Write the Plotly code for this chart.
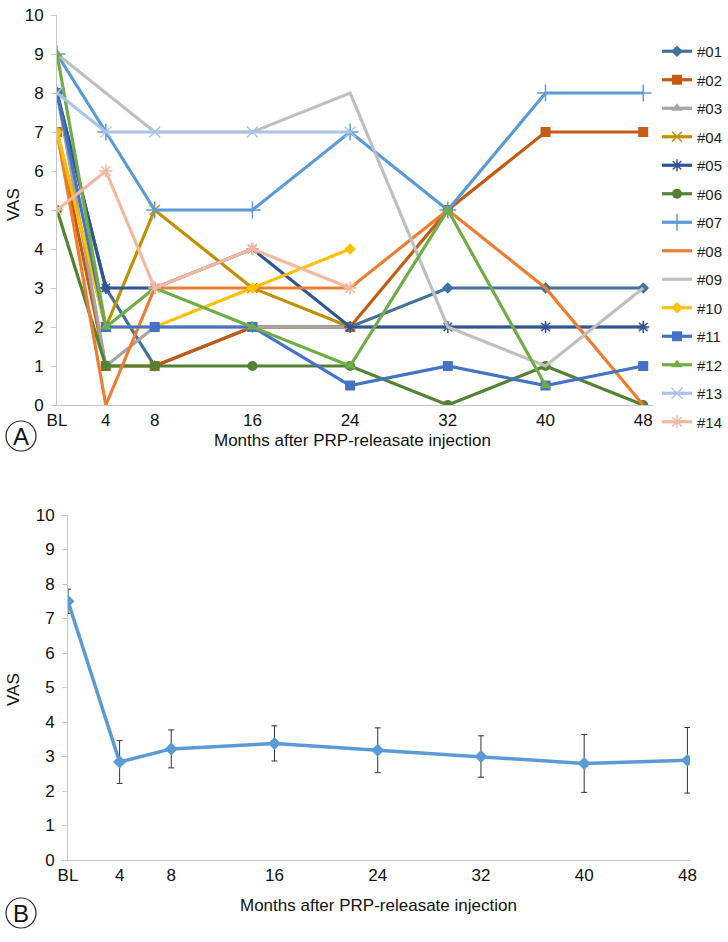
import plotly.graph_objects as go

months = [0, 4, 8, 16, 24, 32, 40, 48]
tick_labels = ["BL", "4", "8", "16", "24", "32", "40", "48"]

names = ["#01", "#02", "#03", "#04", "#05", "#06", "#07",
         "#08", "#09", "#10", "#11", "#12", "#13", "#14"]

p01 = [8, 3, 1, 2, 2, 3, 3, 3]
p02 = [7, 1, 1, 2, 2, 5, 7, 7]
p03 = [8, 1, 2, 2, 2, 2, 2, 2]
p04 = [7, 2, 5, 3, 2, None, None, None]
p05 = [8, 3, 3, 4, 2, 2, 2, 2]
p06 = [5, 1, 1, 1, 1, 0, 1, 0]
p07 = [9, 7, 5, 5, 7, 5, 8, 8]
p08 = [7, 0, 3, 3, 3, 5, 3, 0]
p09 = [9, 8, 7, 7, 8, 2, 1, 3]
p10 = [7, 2, 2, 3, 4, None, None, None]
p11 = [8, 2, 2, 2, 0.5, 1, 0.5, 1]
p12 = [9, 2, 3, 2, 1, 5, 0.5, None]
p13 = [8, 7, 7, 7, 7, None, None, None]
p14 = [5, 6, 3, 4, 3, None, None, None]
patients = [p01, p02, p03, p04, p05, p06, p07, p08, p09, p10, p11, p12, p13, p14]

mean_vas = [7.5, 2.84, 3.22, 3.38, 3.18, 3.0, 2.8, 2.89]
sd_vas = [0.35, 0.62, 0.55, 0.51, 0.65, 0.6, 0.84, 0.95]

colors = ["#41719C", "#C55A11", "#A5A5A5", "#BF9000", "#2F5597", "#548235", "#5B9BD5",
          "#ED7D31", "#BFBFBF", "#FFC000", "#4472C4", "#70AD47", "#A9C4E8", "#F4B8A0"]
symbols = ["diamond", "square", "triangle-up", "x-thin-open", "asterisk-open", "circle",
           "cross-thin-open", None, None, "diamond", "square", "triangle-up",
           "x-thin-open", "asterisk-open"]
sizes = [9, 10, 10, 10, 10, 10, 12, 0, 0, 9, 10, 10, 11, 11]

W, H = 728, 942
def px_x(p):
    return p / W
def px_y(p):
    return 1 - p / H

fig = go.Figure()

for i, (nm, vals) in enumerate(zip(names, patients)):
    sym = symbols[i]
    if sym is None:
        mode = "lines"
        marker = dict()
    else:
        mode = "lines+markers"
        if sym.endswith("-open"):
            marker = dict(symbol=sym, size=sizes[i], color=colors[i],
                          line=dict(color=colors[i], width=1.5))
        else:
            marker = dict(symbol=sym, size=sizes[i], color=colors[i],
                          line=dict(width=0))
    fig.add_trace(go.Scatter(
        x=months, y=vals, name=nm, mode=mode, marker=marker,
        line=dict(color=colors[i], width=3.2), legendgroup=nm,
        xaxis="x", yaxis="y", connectgaps=False))

fig.add_trace(go.Scatter(
    x=months, y=mean_vas, mode="lines+markers", showlegend=False,
    line=dict(color="#5B9BD5", width=3.5),
    marker=dict(symbol="diamond", size=10, color="#5B9BD5"),
    error_y=dict(type="data", array=sd_vas, visible=True, color="#333333",
                 thickness=1, width=3),
    xaxis="x2", yaxis="y2"))

tick_font = dict(family="Liberation Sans", size=17, color="#111111")
title_font = dict(family="Liberation Sans", size=17, color="#111111")

axis_common = dict(showgrid=False, zeroline=False, showline=True, linecolor="#C8C8C8",
                   linewidth=1, tickfont=tick_font, automargin=False)

fig.update_layout(
    width=W, height=H, template="none",
    paper_bgcolor="white", plot_bgcolor="white",
    margin=dict(l=0, r=0, t=0, b=0),
    xaxis=dict(domain=[px_x(57), px_x(653)], range=[0, 48.8], tickmode="array",
               tickvals=months, ticktext=tick_labels, ticks="", anchor="y", **axis_common),
    yaxis=dict(domain=[px_y(405), px_y(15)], range=[0, 10], tickmode="linear", tick0=0, dtick=1,
               ticks="outside", ticklen=5, tickcolor="#C8C8C8", ticklabelstandoff=4,
               anchor="x", **axis_common),
    xaxis2=dict(domain=[px_x(68), px_x(690)], range=[0, 48.2], tickmode="array",
                tickvals=months, ticktext=tick_labels, ticks="", anchor="y2", **axis_common),
    yaxis2=dict(domain=[px_y(860), px_y(515)], range=[0, 10], tickmode="linear", tick0=0, dtick=1,
                ticks="outside", ticklen=5, tickcolor="#C8C8C8", ticklabelstandoff=4,
                anchor="x2", **axis_common),
    legend=dict(x=px_x(657), y=px_y(35), xanchor="left", yanchor="top",
                font=dict(family="Liberation Sans", size=15, color="#222222"),
                tracegroupgap=6, itemwidth=30, bgcolor="rgba(0,0,0,0)"),
    showlegend=True,
)

annots = [
    dict(text="VAS", x=px_x(13), y=px_y(205), textangle=-90),
    dict(text="Months after PRP-releasate injection", x=px_x(352), y=px_y(440)),
    dict(text="VAS", x=px_x(13), y=px_y(690), textangle=-90),
    dict(text="Months after PRP-releasate injection", x=px_x(378), y=px_y(905)),
]
for a in annots:
    fig.add_annotation(xref="paper", yref="paper", showarrow=False,
                       xanchor="center", yanchor="middle", font=title_font, **a)

for cx, cy, letter in [(21, 436, "A"), (21, 913, "B")]:
    r = 15
    fig.add_shape(type="circle", xref="paper", yref="paper",
                  x0=px_x(cx - r), x1=px_x(cx + r), y0=px_y(cy + r), y1=px_y(cy - r),
                  line=dict(color="#222222", width=1.2), fillcolor="white")
    fig.add_annotation(xref="paper", yref="paper", x=px_x(cx), y=px_y(cy), text=letter,
                       showarrow=False, xanchor="center", yanchor="middle",
                       font=dict(family="Liberation Sans", size=24, color="#111111"))

fig.write_html("out.html", config={"displayModeBar": False},
               post_script="document.body.style.margin='0px';")
